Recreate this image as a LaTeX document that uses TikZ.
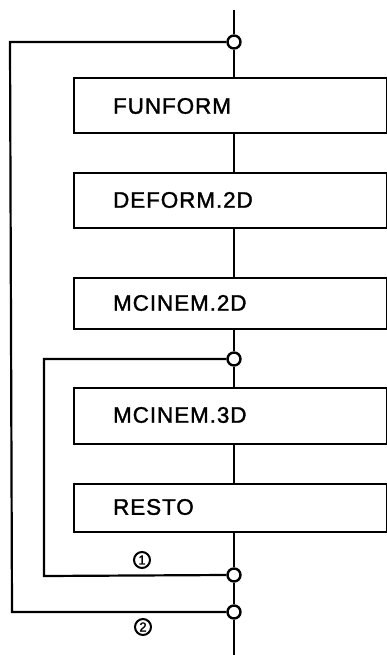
\documentclass[tikz,border=0pt]{standalone}
\usepackage{fontspec}
\setmainfont{Liberation Sans}[LetterSpace=4, FakeBold=1.5]
\begin{document}
\begin{tikzpicture}[x=1pt,y=-1pt,
  line width=2.2pt,
  proc/.style={draw, minimum width=313pt, minimum height=55pt, anchor=north west, inner sep=0pt},
  ptxt/.style={anchor=west, font=\fontsize{22.5}{22.5}\selectfont, inner sep=0pt},
  junc/.style={draw, circle, fill=white, minimum size=13pt, inner sep=0pt, line width=2.4pt},
  lbl/.style={draw, circle, line width=2pt, inner sep=1pt, minimum size=16pt, font=\fontsize{13}{13}\selectfont}
]
\useasboundingbox (0,0) rectangle (387,655);
% coordinates
\coordinate (top) at (234,10);
\coordinate (bot) at (234,655);
% boxes
\node[proc] (b1) at (73,77) {};
\node[proc, minimum height=55pt] (b2) at (73,172) {};
\node[proc, minimum height=51pt] (b3) at (73,277) {};
\node[proc, minimum height=56pt] (b4) at (73,387) {};
\node[proc, minimum height=48pt] (b5) at (73,483) {};
\node[ptxt] (t1) at (112,106) {FUNFORM};
\node[ptxt] (t2) at (112,200) {DEFORM.2D};
\node[ptxt] (t3) at (112,303) {MCINEM.2D};
\node[ptxt] (t4) at (112,415) {MCINEM.3D};
\node[ptxt] (t5) at (112,507) {RESTO};
% junctions
\node[junc] (j1) at (234,42) {};
\node[junc] (j2) at (234,359) {};
\node[junc] (j3) at (234,575) {};
\node[junc] (j4) at (234,612) {};
% corners
\coordinate (o1) at (10,42);
\coordinate (o2) at (12,612);
\coordinate (i1) at (44,359);
\coordinate (i2) at (44,576);
% main line
\draw (top) -- (j1);
\draw (j1) -- (b1.north -| j1);
\draw (b1.south -| j1) -- (b2.north -| j1);
\draw (b2.south -| j1) -- (b3.north -| j1);
\draw (b3.south -| j1) -- (j2);
\draw (j2) -- (b4.north -| j2);
\draw (b4.south -| j2) -- (b5.north -| j2);
\draw (b5.south -| j2) -- (j3);
\draw (j3) -- (j4);
\draw (j4) -- (bot);
% loops
\draw (j1.west) -- (o1) -- (o2) -- (j4.west);
\draw (j2.west) -- (i1) -- (i2) -- (j3.west);
% labels
\node[lbl] (l1) at (142,560) {1};
\node[lbl] (l2) at (143,627) {2};
\end{tikzpicture}
\end{document}
